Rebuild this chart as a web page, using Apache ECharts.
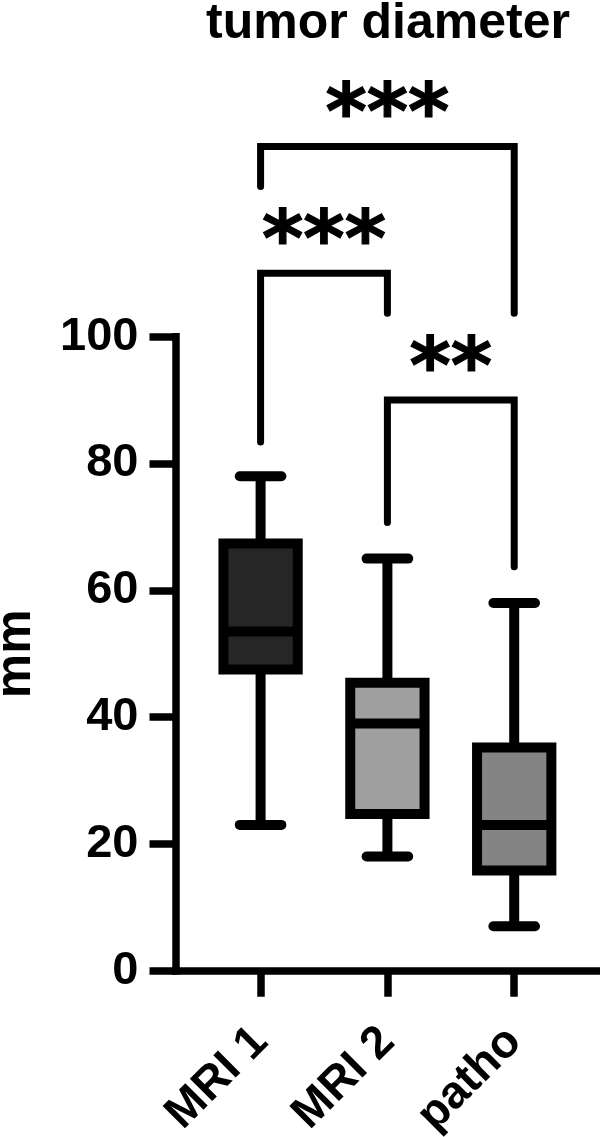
<!DOCTYPE html>
<html>
<head>
<meta charset="utf-8">
<script src="https://cdn.jsdelivr.net/npm/echarts@6/dist/echarts.min.js"></script>
<style>
html,body{margin:0;padding:0;background:#fff;}
#chart{width:600px;height:1137px;}
</style>
</head>
<body>
<div id="chart"></div>
<script>
// ---- data ----
const categories = ['MRI 1', 'MRI 2', 'patho'];
const mins    = [23, 18, 7];
const q1s     = [47.5, 24.7, 15.8];
const medians = [53.5, 39, 23];
const q3s     = [67.4, 45.4, 35.2];
const maxs    = [78, 65, 58];
const yTicks  = [0, 20, 40, 60, 80, 100];

// significance brackets
const bracketFrom   = [0, 0, 1];
const bracketTo     = [1, 2, 2];
const bracketTop    = [110, 130, 90];
const bracketLeftEnd  = [83.4, 123.7, 70.7];
const bracketRightEnd = [103.7, 103.7, 63.7];
const bracketLabels = ['***', '***', '**'];

// ---- styles ----
const boxFills = ['#262626', '#9f9f9f', '#848484'];
const FONT = '"Liberation Sans", Arial, Helvetica, sans-serif';

const boxData = categories.map((c, i) => [i, mins[i], q1s[i], medians[i], q3s[i], maxs[i]]);
const bracketData = bracketFrom.map((f, i) => [f, bracketTo[i], bracketTop[i], bracketLeftEnd[i], bracketRightEnd[i]]);

const chart = echarts.init(document.getElementById('chart'), null, {renderer: 'canvas'});

function renderBox(params, api) {
  const x = api.value(0);
  const pMin = api.coord([x, api.value(1)]);
  const pQ1 = api.coord([x, api.value(2)]);
  const pMed = api.coord([x, api.value(3)]);
  const pQ3 = api.coord([x, api.value(4)]);
  const pMax = api.coord([x, api.value(5)]);
  const unit = api.size([1, 0])[0];
  const hw = unit * 0.293;
  const capHw = unit * 0.164;
  const cx = pMed[0];
  const lw = 10;
  const blk = '#000';
  return {
    type: 'group',
    children: [
      {type: 'line', shape: {x1: cx, y1: pQ3[1], x2: cx, y2: pMax[1]}, style: {stroke: blk, lineWidth: lw}},
      {type: 'line', shape: {x1: cx, y1: pQ1[1], x2: cx, y2: pMin[1]}, style: {stroke: blk, lineWidth: lw}},
      {type: 'line', shape: {x1: cx - capHw, y1: pMax[1], x2: cx + capHw, y2: pMax[1]}, style: {stroke: blk, lineWidth: lw, lineCap: 'round'}},
      {type: 'line', shape: {x1: cx - capHw, y1: pMin[1], x2: cx + capHw, y2: pMin[1]}, style: {stroke: blk, lineWidth: lw, lineCap: 'round'}},
      {type: 'rect', shape: {x: cx - hw, y: pQ3[1], width: 2 * hw, height: pQ1[1] - pQ3[1]},
        style: {fill: boxFills[params.dataIndex], stroke: blk, lineWidth: lw, lineJoin: 'miter'}},
      {type: 'line', shape: {x1: cx - hw, y1: pMed[1], x2: cx + hw, y2: pMed[1]}, style: {stroke: blk, lineWidth: lw}}
    ]
  };
}

function renderBracket(params, api) {
  const a = api.value(0), b = api.value(1), top = api.value(2);
  const pl = api.coord([a, api.value(3)]);
  const pr = api.coord([b, api.value(4)]);
  const tl = api.coord([a, top]);
  const tr = api.coord([b, top]);
  return {
    type: 'group',
    children: [
      {type: 'polyline', shape: {points: [pl, tl, tr, pr]},
        style: {stroke: '#000', lineWidth: 7, fill: null, lineCap: 'round', lineJoin: 'miter'}},
      {type: 'text', style: {
        text: bracketLabels[params.dataIndex],
        x: (tl[0] + tr[0]) / 2, y: tl[1] - 28,
        align: 'center', verticalAlign: 'middle',
        textAlign: 'center', textVerticalAlign: 'middle',
        font: 'bold 79px "DejaVu Sans"', fill: '#000', stroke: '#000', lineWidth: 1.2
      }}
    ]
  };
}

const option = {
  animation: false,
  backgroundColor: '#fff',
  title: {
    text: 'tumor diameter',
    left: 388, top: -1, textAlign: 'center',
    padding: 0,
    textStyle: {fontFamily: FONT, fontWeight: 'bold', fontSize: 50, color: '#000'}
  },
  grid: {left: 175.5, right: 0.7, top: 336.7, bottom: 166.3, containLabel: false, outerBoundsMode: 'none'},
  xAxis: {
    type: 'value', min: -0.671, max: 2.671,
    splitLine: {show: false},
    axisLine: {show: true, onZero: false, lineStyle: {color: '#000', width: 7.5, cap: 'square'}},
    axisTick: {show: true, length: 26, lineStyle: {color: '#000', width: 7.5}, customValues: [0, 1, 2]},
    axisLabel: {
      show: true, customValues: [0, 1, 2], rotate: 45, margin: 64,
      formatter: v => categories[Math.round(v)] || '',
      fontFamily: FONT, fontWeight: 'bold', fontSize: 46, color: '#000'
    }
  },
  yAxis: {
    type: 'value', min: 0, max: 100, interval: 20,
    name: 'mm', nameLocation: 'middle', nameRotate: 90, nameGap: 134.5,
    nameTextStyle: {fontFamily: FONT, fontWeight: 'bold', fontSize: 50, color: '#000'},
    splitLine: {show: false},
    axisLine: {show: true, onZero: false, lineStyle: {color: '#000', width: 7.5, cap: 'square'}},
    axisTick: {show: true, length: 26, lineStyle: {color: '#000', width: 7.5}},
    axisLabel: {
      margin: 37, fontFamily: FONT, fontWeight: 'bold', fontSize: 47, color: '#000',
      formatter: v => (yTicks.indexOf(v) >= 0 ? String(v) : '')
    }
  },
  series: [
    {type: 'custom', name: 'box', renderItem: renderBox, data: boxData, clip: false, silent: true,
      encode: {x: 0, y: [1, 2, 3, 4, 5]}},
    {type: 'custom', name: 'brackets', renderItem: renderBracket, data: bracketData, clip: false, silent: true,
      encode: {x: [0, 1], y: [2, 3, 4]}, z: 5}
  ]
};
chart.setOption(option);
</script>
</body>
</html>
